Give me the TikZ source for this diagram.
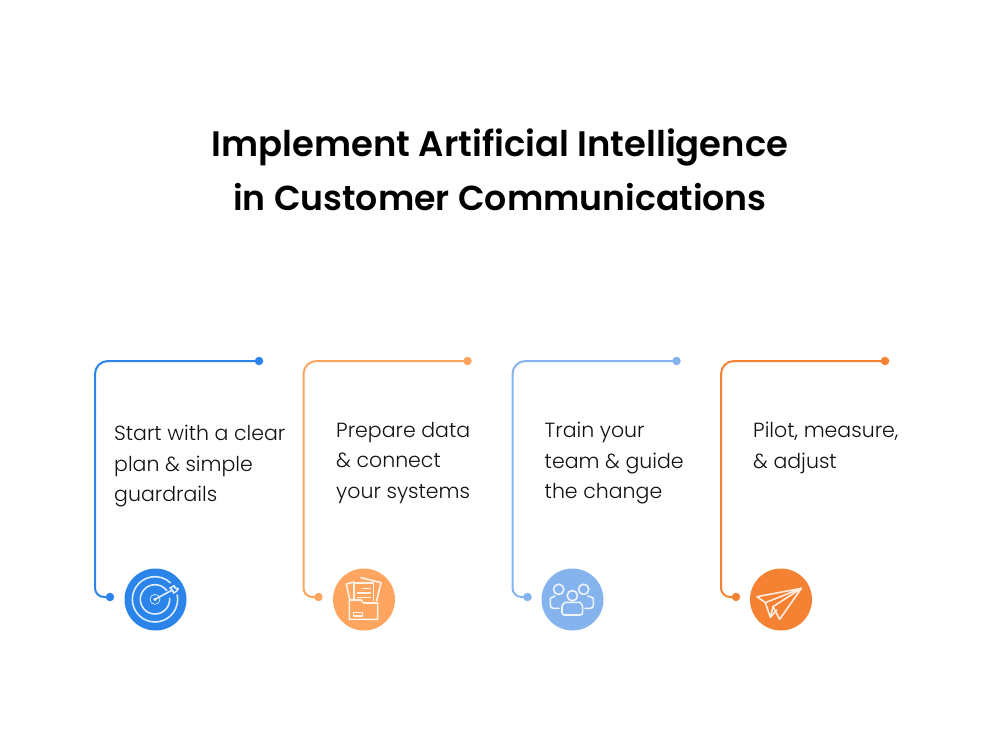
\documentclass[tikz,border=0pt]{standalone}
\usepackage{fontspec}
\setmainfont{Poppins}[UprightFont=*-Light,BoldFont=*-SemiBold]
\usetikzlibrary{calc}
\definecolor{cA}{HTML}{2A84EA}
\definecolor{cB}{HTML}{FFA55F}
\definecolor{cC}{HTML}{85B3EE}
\definecolor{cD}{HTML}{F58233}
\definecolor{ink}{HTML}{111111}
\tikzset{
  dotnode/.style={circle,fill=#1,inner sep=0pt,minimum size=8.5pt},
  iconbg/.style={circle,fill=#1,inner sep=0pt,minimum size=62pt},
  wire/.style={draw=#1,line width=2pt},
  bodytext/.style={anchor=north west,align=left,inner sep=0pt,text=ink,font=\fontsize{20.5}{30.4}\selectfont},
  titletext/.style={align=center,inner sep=0pt,text=black,font=\fontsize{35.4}{54.5}\selectfont\bfseries},
  glyph/.style={draw=white!85!#1,line width=1.6pt,line cap=round,line join=round},
}
\newcommand{\cardwire}[4]{% name, left x, dot x, colour
  \node[dotnode=#4] (#1top) at (#3,361) {};
  \node[dotnode=#4] (#1bot) at (#2+15,597) {};
  \coordinate (#1ca) at (#2,361);
  \coordinate (#1cb) at (#2,597);
  \draw[wire=#4,rounded corners=13pt] (#1top.center) -- (#1ca) -- ($(#1ca)!0.2!(#1cb)$);
  \draw[wire=#4,rounded corners=9pt] ($(#1ca)!0.2!(#1cb)$) -- (#1cb) -- (#1bot.center);
}
\begin{document}
\begin{tikzpicture}[x=1pt,y=-1pt]
\useasboundingbox (0,0) rectangle (1000,750);
\node[titletext] (title) at (500,170) {Implement Artificial Intelligence\\{\fontsize{34.7}{54.5}\selectfont in Customer Communications}};

\cardwire{a}{95}{259}{cA}
\cardwire{b}{303.5}{467.5}{cB}
\cardwire{c}{512.5}{676.5}{cC}
\cardwire{d}{721}{885}{cD}

\node[bodytext] (ta) at (114,425) {Start with a clear\\plan \& simple\\guardrails};
\node[bodytext] (tb) at (336,422) {Prepare data\\\& connect\\your systems};
\node[bodytext] (tc) at (544.5,422) {Train your\\team \& guide\\the change};
\node[bodytext] (td) at (753,422) {Pilot, measure,\\\& adjust};

\node[iconbg=cA] (ia) at (155.5,599.5) {};
\node[iconbg=cB] (ib) at (364,599.5) {};
\node[iconbg=cC] (ic) at (572.5,599.5) {};
\node[iconbg=cD] (id) at (781,599.5) {};

% target
\begin{scope}[shift={(115,560)},x=0.3333pt,y=-0.3333pt,glyph=cA]
  \draw (120,118) ++(-11:68) arc[start angle=-11,end angle=313,radius=68];
  \draw (120,118) ++(-4:44) arc[start angle=-4,end angle=323,radius=44];
  \draw[line width=0.7pt] (120,118) circle[radius=15];
  \fill[white] (120,118) circle[radius=5];
  \draw (120,118) -- (172,90);
  \draw (165,84) -- (172,90) -- (176,99) -- (184,94) -- (190,86) -- (180,84) -- (178,77) -- cycle;
\end{scope}

% folder
\begin{scope}[shift={(325,560)},x=0.3333pt,y=-0.3333pt,glyph=cB]
  \draw (74,118) -- (64,72) -- (87,66);
  \draw (108,53) -- (168,68) -- (155,122);
  \draw (87,122) -- (87,69) -- (146,69) -- (146,122);
  \draw (112,86) -- (136,86) (97,99) -- (136,99) (97,112) -- (136,112);
  \draw (73,178) -- (73,120) -- (108,120) -- (116,129) -- (158,129) -- (158,178) -- cycle;
  \draw (86,158) rectangle (112,168);
\end{scope}

% people
\begin{scope}[shift={(533,560)},x=0.3333pt,y=-0.3333pt,glyph=cC]
  \draw (118,107) circle[radius=15.5];
  \draw[rounded corners=2.5pt] (87,165) -- (87,146) .. controls (87,135) and (95,127) .. (104,127) -- (133,127) .. controls (141,127) and (149,135) .. (149,146) -- (149,165) -- cycle;
  \draw (77,88) circle[radius=15.5];
  \draw (152,88) circle[radius=15.5];
  \draw[rounded corners=3pt] (66,108) .. controls (58,110) and (52,116) .. (52,124) -- (52,145) -- (78,145);
  \draw[rounded corners=3pt] (164,108) .. controls (174,110) and (181,116) .. (181,124) -- (181,145) -- (156,145);
\end{scope}

% plane
\begin{scope}[shift={(742,560)},x=0.3333pt,y=-0.3333pt,glyph=cD]
  \draw (178,85) -- (45,110) -- (70,128) -- cycle;
  \draw (70,128) -- (85,172) -- (93,140) -- (178,85);
  \draw (93,140) -- (113,178) -- (178,85);
  \draw (85,172) -- (104,150);
\end{scope}
\end{tikzpicture}
\end{document}
